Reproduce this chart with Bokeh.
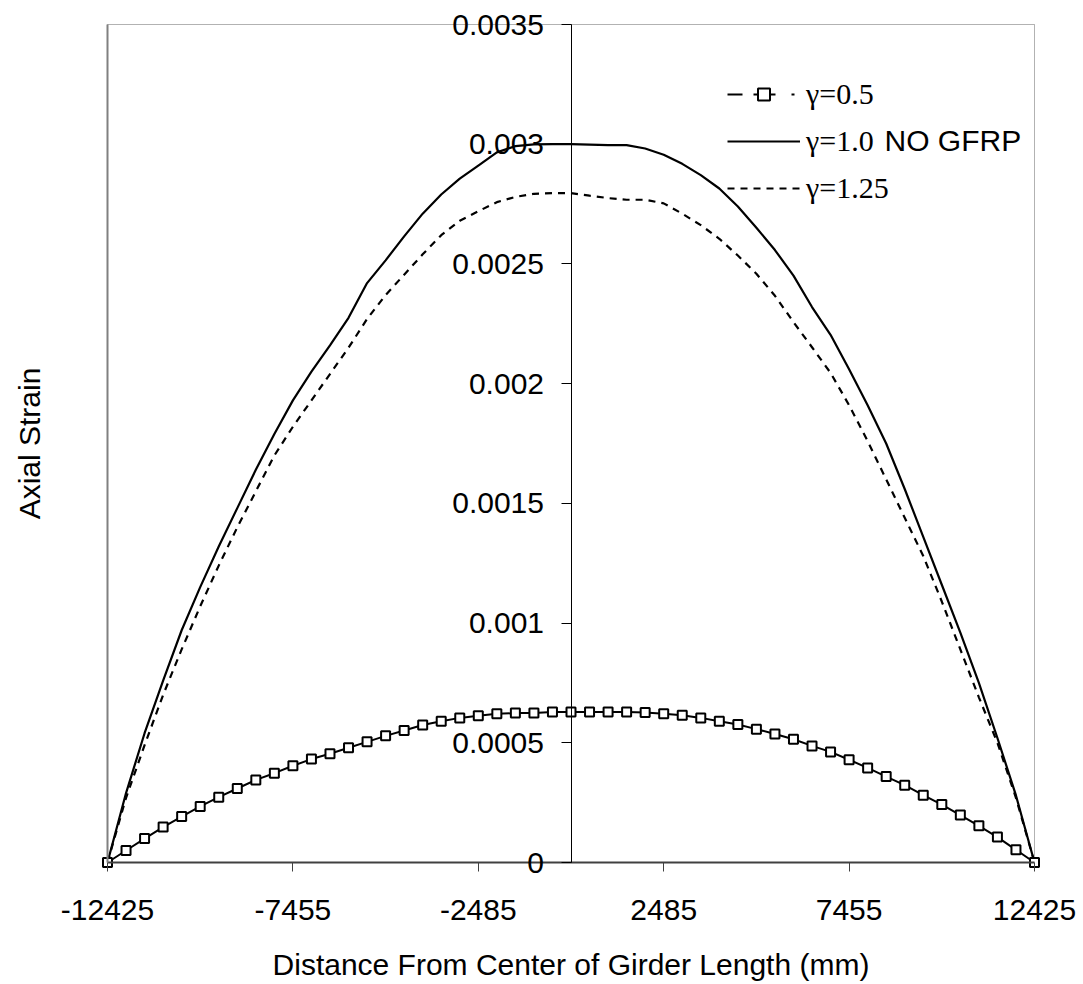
from bokeh.plotting import figure
from bokeh.models import Range1d, LinearAxis, FixedTicker, Legend, LegendItem, Label, BoxAnnotation
from bokeh.embed import file_html
from bokeh.resources import INLINE

# ---- data ----
distance_mm = [-12425, -11928, -11431, -10934, -10437, -9940, -9443, -8946, -8449, -7952,
               -7455, -6958, -6461, -5964, -5467, -4970, -4473, -3976, -3479, -2982,
               -2485, -1988, -1491, -994, -497, 0, 497, 994, 1491, 1988,
               2485, 2982, 3479, 3976, 4473, 4970, 5467, 5964, 6461, 6958,
               7455, 7952, 8449, 8946, 9443, 9940, 10437, 10934, 11431, 11928, 12425]

strain_g050 = [0, 0.0000501, 0.000100, 0.000148, 0.000192, 0.000234, 0.000273, 0.000309, 0.000345, 0.000373,
               0.000404, 0.000432, 0.000454, 0.000479, 0.000504, 0.000529, 0.000551, 0.000574, 0.000590, 0.000604,
               0.000613, 0.000621, 0.000624, 0.000624, 0.000629, 0.000629,
               0.000629, 0.000629, 0.000629, 0.000627, 0.000621, 0.000615, 0.000604, 0.000590, 0.000576, 0.000557,
               0.000537, 0.000515, 0.000487, 0.000462, 0.000429, 0.000395, 0.000359, 0.000323, 0.000281, 0.000242,
               0.000198, 0.000153, 0.000106, 0.000053, 0]

strain_g100 = [0, 0.00029, 0.00054, 0.00076, 0.00097, 0.00115, 0.00132, 0.00148, 0.00164, 0.00179,
               0.00193, 0.00205, 0.00216, 0.002275, 0.00242, 0.002515, 0.002615, 0.00271, 0.00279, 0.002856,
               0.002911, 0.002966, 0.002992, 0.002999, 0.003, 0.003,
               0.002998, 0.002996, 0.002996, 0.002982, 0.002956, 0.002918, 0.002871, 0.002815, 0.00274, 0.002651,
               0.002558, 0.002451, 0.00232, 0.002204, 0.00206, 0.00191, 0.00175, 0.00156, 0.00136, 0.00116,
               0.00096, 0.00075, 0.00052, 0.00028, 0]

strain_g125 = [0, 0.00027, 0.00049, 0.0007, 0.00089, 0.00107, 0.00124, 0.0014, 0.00155, 0.0017,
               0.00182, 0.00193, 0.00204, 0.00215, 0.00227, 0.00237, 0.002455, 0.00254, 0.00262, 0.00268,
               0.00272, 0.002758, 0.00278, 0.002793, 0.002796, 0.002796,
               0.002785, 0.002775, 0.002768, 0.002768, 0.002753, 0.00271, 0.002662, 0.002605, 0.002535, 0.002459,
               0.002367, 0.002257, 0.002152, 0.002045, 0.00191, 0.00176, 0.0016, 0.00144, 0.00128, 0.00109,
               0.00089, 0.00069, 0.0005, 0.00027, 0]

x_ticks = [-12425, -7455, -2485, 2485, 7455, 12425]
x_tick_labels = ["-12425", "-7455", "-2485", "2485", "7455", "12425"]
y_ticks = [0, 0.0005, 0.001, 0.0015, 0.002, 0.0025, 0.003, 0.0035]
y_tick_labels = ["0", "0.0005", "0.001", "0.0015", "0.002", "0.0025", "0.003", "0.0035"]
y_axis_cross = 0  # value axis crosses the category axis at the girder centre

series_labels = ["\u03b3=0.5", "\u03b3=1.0", "\u03b3=1.25"]
note_text = "NO GFRP"
x_title = "Distance From Center of Girder Length (mm)"
y_title = "Axial Strain"

SANS = "Liberation Sans"
SERIF = "Liberation Serif"
FS = "30px"

# ---- layout: the frame fills the whole canvas so nothing gets clipped ----
W, H = 1083, 984
PLOT_L, PLOT_R, PLOT_T, PLOT_B = 107, 1034, 24, 862   # pixel box of the plotting area
x_lo, x_hi = x_ticks[0], x_ticks[-1]
y_lo, y_hi = y_ticks[0], y_ticks[-1]
kx = (x_hi - x_lo) / (PLOT_R - PLOT_L)
ky = (y_hi - y_lo) / (PLOT_B - PLOT_T)
x_range = Range1d(x_lo - PLOT_L * kx, x_hi + (W - PLOT_R) * kx)
y_range = Range1d(y_lo - (H - PLOT_B) * ky, y_hi + PLOT_T * ky)

p = figure(frame_width=W, frame_height=H, x_range=x_range, y_range=y_range,
           x_axis_type=None, y_axis_type=None,
           output_backend="svg", toolbar_location=None,
           min_border=0, min_border_left=0, min_border_right=0, min_border_top=0, min_border_bottom=0,
           outline_line_color=None,
           background_fill_color="white", border_fill_color="white")

# plot-area border
p.add_layout(BoxAnnotation(left=x_lo, right=x_hi, bottom=y_lo, top=y_hi,
                           fill_alpha=0, line_color="black", line_width=1, level="underlay"))

# category axis along strain = 0
xaxis = LinearAxis(ticker=FixedTicker(ticks=x_ticks), fixed_location=y_lo, bounds=(x_lo, x_hi),
                   major_label_overrides=dict(zip(x_ticks, x_tick_labels)),
                   axis_label=x_title)
xaxis.axis_line_color = "#404040"
xaxis.axis_line_width = 2
xaxis.major_tick_line_color = "#404040"
xaxis.major_tick_out = 9
xaxis.major_tick_in = 0
xaxis.minor_tick_out = 0
xaxis.minor_tick_in = 0
xaxis.major_label_text_font = SANS
xaxis.major_label_text_font_size = FS
xaxis.major_label_text_color = "black"
xaxis.major_label_standoff = 28
xaxis.axis_label_text_font = SANS
xaxis.axis_label_text_font_size = FS
xaxis.axis_label_text_font_style = "normal"
xaxis.axis_label_text_color = "black"
xaxis.axis_label_standoff = 25
p.add_layout(xaxis, "below")

# value axis crossing at the girder centre
yaxis = LinearAxis(ticker=FixedTicker(ticks=y_ticks), fixed_location=y_axis_cross, bounds=(y_lo, y_hi),
                   major_label_overrides=dict(zip(y_ticks, y_tick_labels)))
yaxis.axis_line_color = "black"
yaxis.axis_line_width = 1
yaxis.major_tick_line_color = "black"
yaxis.major_tick_out = 10
yaxis.major_tick_in = 0
yaxis.minor_tick_out = 0
yaxis.minor_tick_in = 0
yaxis.major_label_text_font = SANS
yaxis.major_label_text_font_size = FS
yaxis.major_label_text_color = "black"
yaxis.major_label_standoff = 17
p.add_layout(yaxis, "left")

# left edge of the plot area carrying the axis title
ytitle = LinearAxis(ticker=FixedTicker(ticks=[]), fixed_location=x_lo, bounds=(y_lo, y_hi),
                    axis_label=y_title)
ytitle.axis_line_color = "#808080"
ytitle.axis_line_width = 2
ytitle.major_tick_out = 0
ytitle.major_tick_in = 0
ytitle.minor_tick_out = 0
ytitle.minor_tick_in = 0
ytitle.axis_label_text_font = SANS
ytitle.axis_label_text_font_size = FS
ytitle.axis_label_text_font_style = "normal"
ytitle.axis_label_text_color = "black"
ytitle.axis_label_standoff = 62
p.add_layout(ytitle, "left")

# series
r125 = p.line(distance_mm, strain_g125, line_color="black", line_width=2.2, line_dash="7 6")
r100 = p.line(distance_mm, strain_g100, line_color="black", line_width=2.2)
r050 = p.line(distance_mm, strain_g050, line_color="black", line_width=2)
m050 = p.scatter(distance_mm, strain_g050, marker="square", size=9,
                 fill_color="white", line_color="black", line_width=2)

# legend key for the first series uses the dash-dot style of the original key
key050 = p.line(distance_mm, strain_g050, line_color="black", line_width=2,
                line_dash="15 11 22 16 3 100", visible=False)

legend = Legend(items=[
    LegendItem(label=series_labels[0], renderers=[key050, m050]),
    LegendItem(label=series_labels[1], renderers=[r100]),
    LegendItem(label=series_labels[2], renderers=[r125]),
], location=(727, 779))
legend.click_policy = "none"
legend.inactive_fill_alpha = 0
legend.border_line_color = None
legend.background_fill_alpha = 0
legend.padding = 0
legend.margin = 0
legend.spacing = 13
legend.glyph_width = 73
legend.glyph_height = 30
legend.label_height = 30
legend.label_standoff = 6
legend.label_text_font = SERIF
legend.label_text_font_size = FS
legend.label_text_color = "black"
p.add_layout(legend)

note = Label(x=884, y=844, x_units="screen", y_units="screen", text=note_text,
             text_font=SANS, text_font_size=FS, text_color="black", text_baseline="middle")
p.add_layout(note)

open("out.html", "w").write(file_html(p, INLINE))
